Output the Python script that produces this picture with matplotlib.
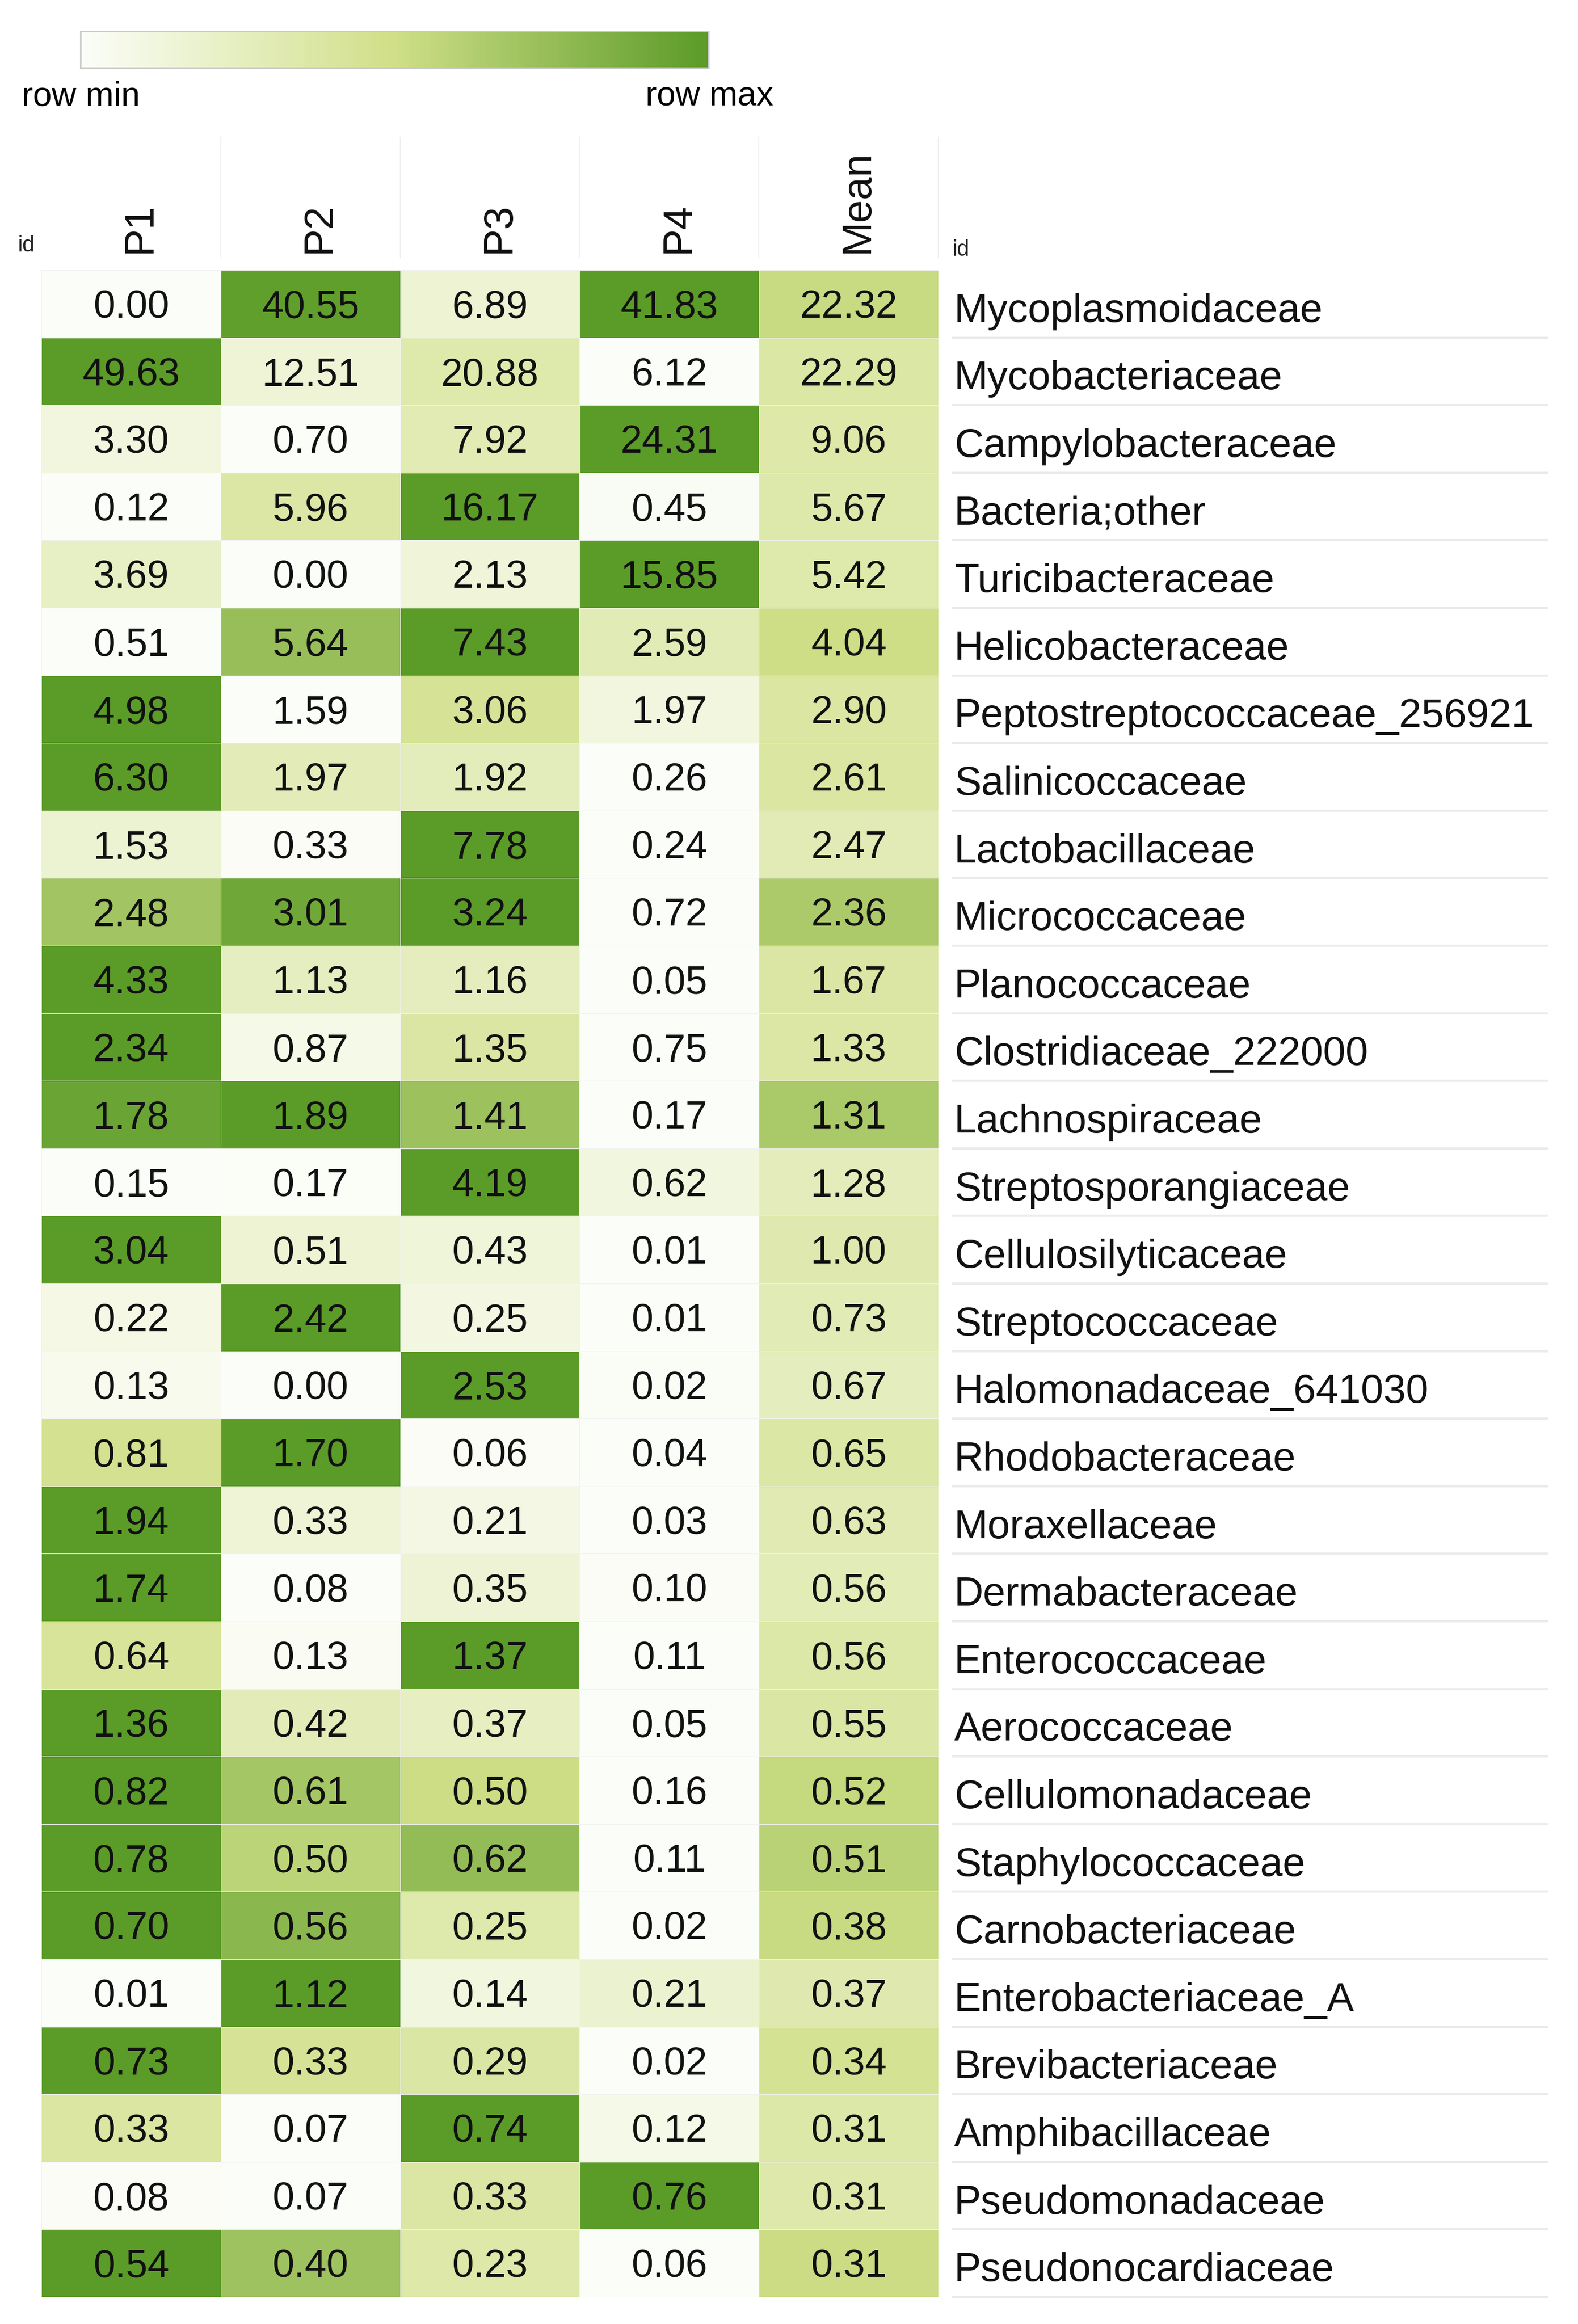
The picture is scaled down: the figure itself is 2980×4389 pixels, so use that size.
import numpy as np
import matplotlib
matplotlib.use("Agg")
import matplotlib.pyplot as plt
from matplotlib.colors import LinearSegmentedColormap
from matplotlib.cm import ScalarMappable

plt.rcParams['font.family'] = ['Liberation Sans', 'DejaVu Sans']

families = [
    "Mycoplasmoidaceae", "Mycobacteriaceae", "Campylobacteraceae", "Bacteria;other",
    "Turicibacteraceae", "Helicobacteraceae", "Peptostreptococcaceae_256921",
    "Salinicoccaceae", "Lactobacillaceae", "Micrococcaceae", "Planococcaceae",
    "Clostridiaceae_222000", "Lachnospiraceae", "Streptosporangiaceae",
    "Cellulosilyticaceae", "Streptococcaceae", "Halomonadaceae_641030",
    "Rhodobacteraceae", "Moraxellaceae", "Dermabacteraceae", "Enterococcaceae",
    "Aerococcaceae", "Cellulomonadaceae", "Staphylococcaceae", "Carnobacteriaceae",
    "Enterobacteriaceae_A", "Brevibacteriaceae", "Amphibacillaceae",
    "Pseudomonadaceae", "Pseudonocardiaceae",
]
columns = ["P1", "P2", "P3", "P4", "Mean"]

p1 = [0.00, 49.63, 3.30, 0.12, 3.69, 0.51, 4.98, 6.30, 1.53, 2.48, 4.33, 2.34, 1.78, 0.15,
      3.04, 0.22, 0.13, 0.81, 1.94, 1.74, 0.64, 1.36, 0.82, 0.78, 0.70, 0.01, 0.73, 0.33,
      0.08, 0.54]
p2 = [40.55, 12.51, 0.70, 5.96, 0.00, 5.64, 1.59, 1.97, 0.33, 3.01, 1.13, 0.87, 1.89, 0.17,
      0.51, 2.42, 0.00, 1.70, 0.33, 0.08, 0.13, 0.42, 0.61, 0.50, 0.56, 1.12, 0.33, 0.07,
      0.07, 0.40]
p3 = [6.89, 20.88, 7.92, 16.17, 2.13, 7.43, 3.06, 1.92, 7.78, 3.24, 1.16, 1.35, 1.41, 4.19,
      0.43, 0.25, 2.53, 0.06, 0.21, 0.35, 1.37, 0.37, 0.50, 0.62, 0.25, 0.14, 0.29, 0.74,
      0.33, 0.23]
p4 = [41.83, 6.12, 24.31, 0.45, 15.85, 2.59, 1.97, 0.26, 0.24, 0.72, 0.05, 0.75, 0.17, 0.62,
      0.01, 0.01, 0.02, 0.04, 0.03, 0.10, 0.11, 0.05, 0.16, 0.11, 0.02, 0.21, 0.02, 0.12,
      0.76, 0.06]
mean = [22.32, 22.29, 9.06, 5.67, 5.42, 4.04, 2.90, 2.61, 2.47, 2.36, 1.67, 1.33, 1.31, 1.28,
        1.00, 0.73, 0.67, 0.65, 0.63, 0.56, 0.56, 0.55, 0.52, 0.51, 0.38, 0.37, 0.34, 0.31,
        0.31, 0.31]

vals = np.column_stack([p1, p2, p3, p4, mean])
lo = vals.min(axis=1, keepdims=True)
hi = vals.max(axis=1, keepdims=True)
scaled = (vals - lo) / (hi - lo)

cmap = LinearSegmentedColormap.from_list(
    "rowgreen", [(0, "#fbfdf8"), (0.5, "#d0df88"), (1, "#5b9b28")])

W, H = 2980, 4389
fig = plt.figure(figsize=(W / 100, H / 100), dpi=100)


def fx(px):
    return px / W


def fy(py):
    return 1 - py / H


n = len(families)
ax = fig.add_axes([fx(78), fy(4338), (1772 - 78) / W, (4338 - 510) / H])
ax.pcolormesh(scaled, cmap=cmap, vmin=0, vmax=1, edgecolors="#f1f1f1", linewidth=0.5)
ax.set_xlim(0, len(columns))
ax.set_ylim(n, 0)
ax.axis("off")

for i in range(n):
    for j in range(len(columns)):
        ax.text(j + 0.5, i + 0.71, f"{vals[i, j]:.2f}", ha="center", va="baseline",
                fontsize=53, color="#111111")
    ax.text(5.089, i + 0.766, families[i], ha="left", va="baseline",
            fontsize=55, color="#111111", clip_on=False)

# grey rules under the row names
ax.hlines(np.arange(1, n + 1), 5.074, 8.40, color="#ebebeb", lw=3, clip_on=False)

# header
ax.vlines(np.arange(1, len(columns) + 1), -1.975, -0.172, color="#f0f0f0", lw=1.5,
          clip_on=False)
for j, c in enumerate(columns):
    ax.text(j + 0.55, -0.25, c, rotation=90, ha="center", va="bottom",
            fontsize=56, color="#111111", clip_on=False)

fig.text(fx(33), fy(475), "id", fontsize=30, va="baseline", color="#222222")
fig.text(fx(1798), fy(483), "id", fontsize=30, va="baseline", color="#222222")

# colour key
cax = fig.add_axes([fx(152), fy(128), (1338 - 152) / W, 69 / H])
sm = ScalarMappable(cmap=cmap)
sm.set_clim(0, 1)
cb = fig.colorbar(sm, cax=cax, orientation="horizontal")
cb.set_ticks([])
cb.outline.set_edgecolor("#c8c8c8")
cb.outline.set_linewidth(2)
fig.text(fx(153), fy(199), "row min", ha="center", va="baseline", fontsize=46)
fig.text(fx(1340), fy(199), "row max", ha="center", va="baseline", fontsize=46)

fig.savefig("out.png", dpi=100)
